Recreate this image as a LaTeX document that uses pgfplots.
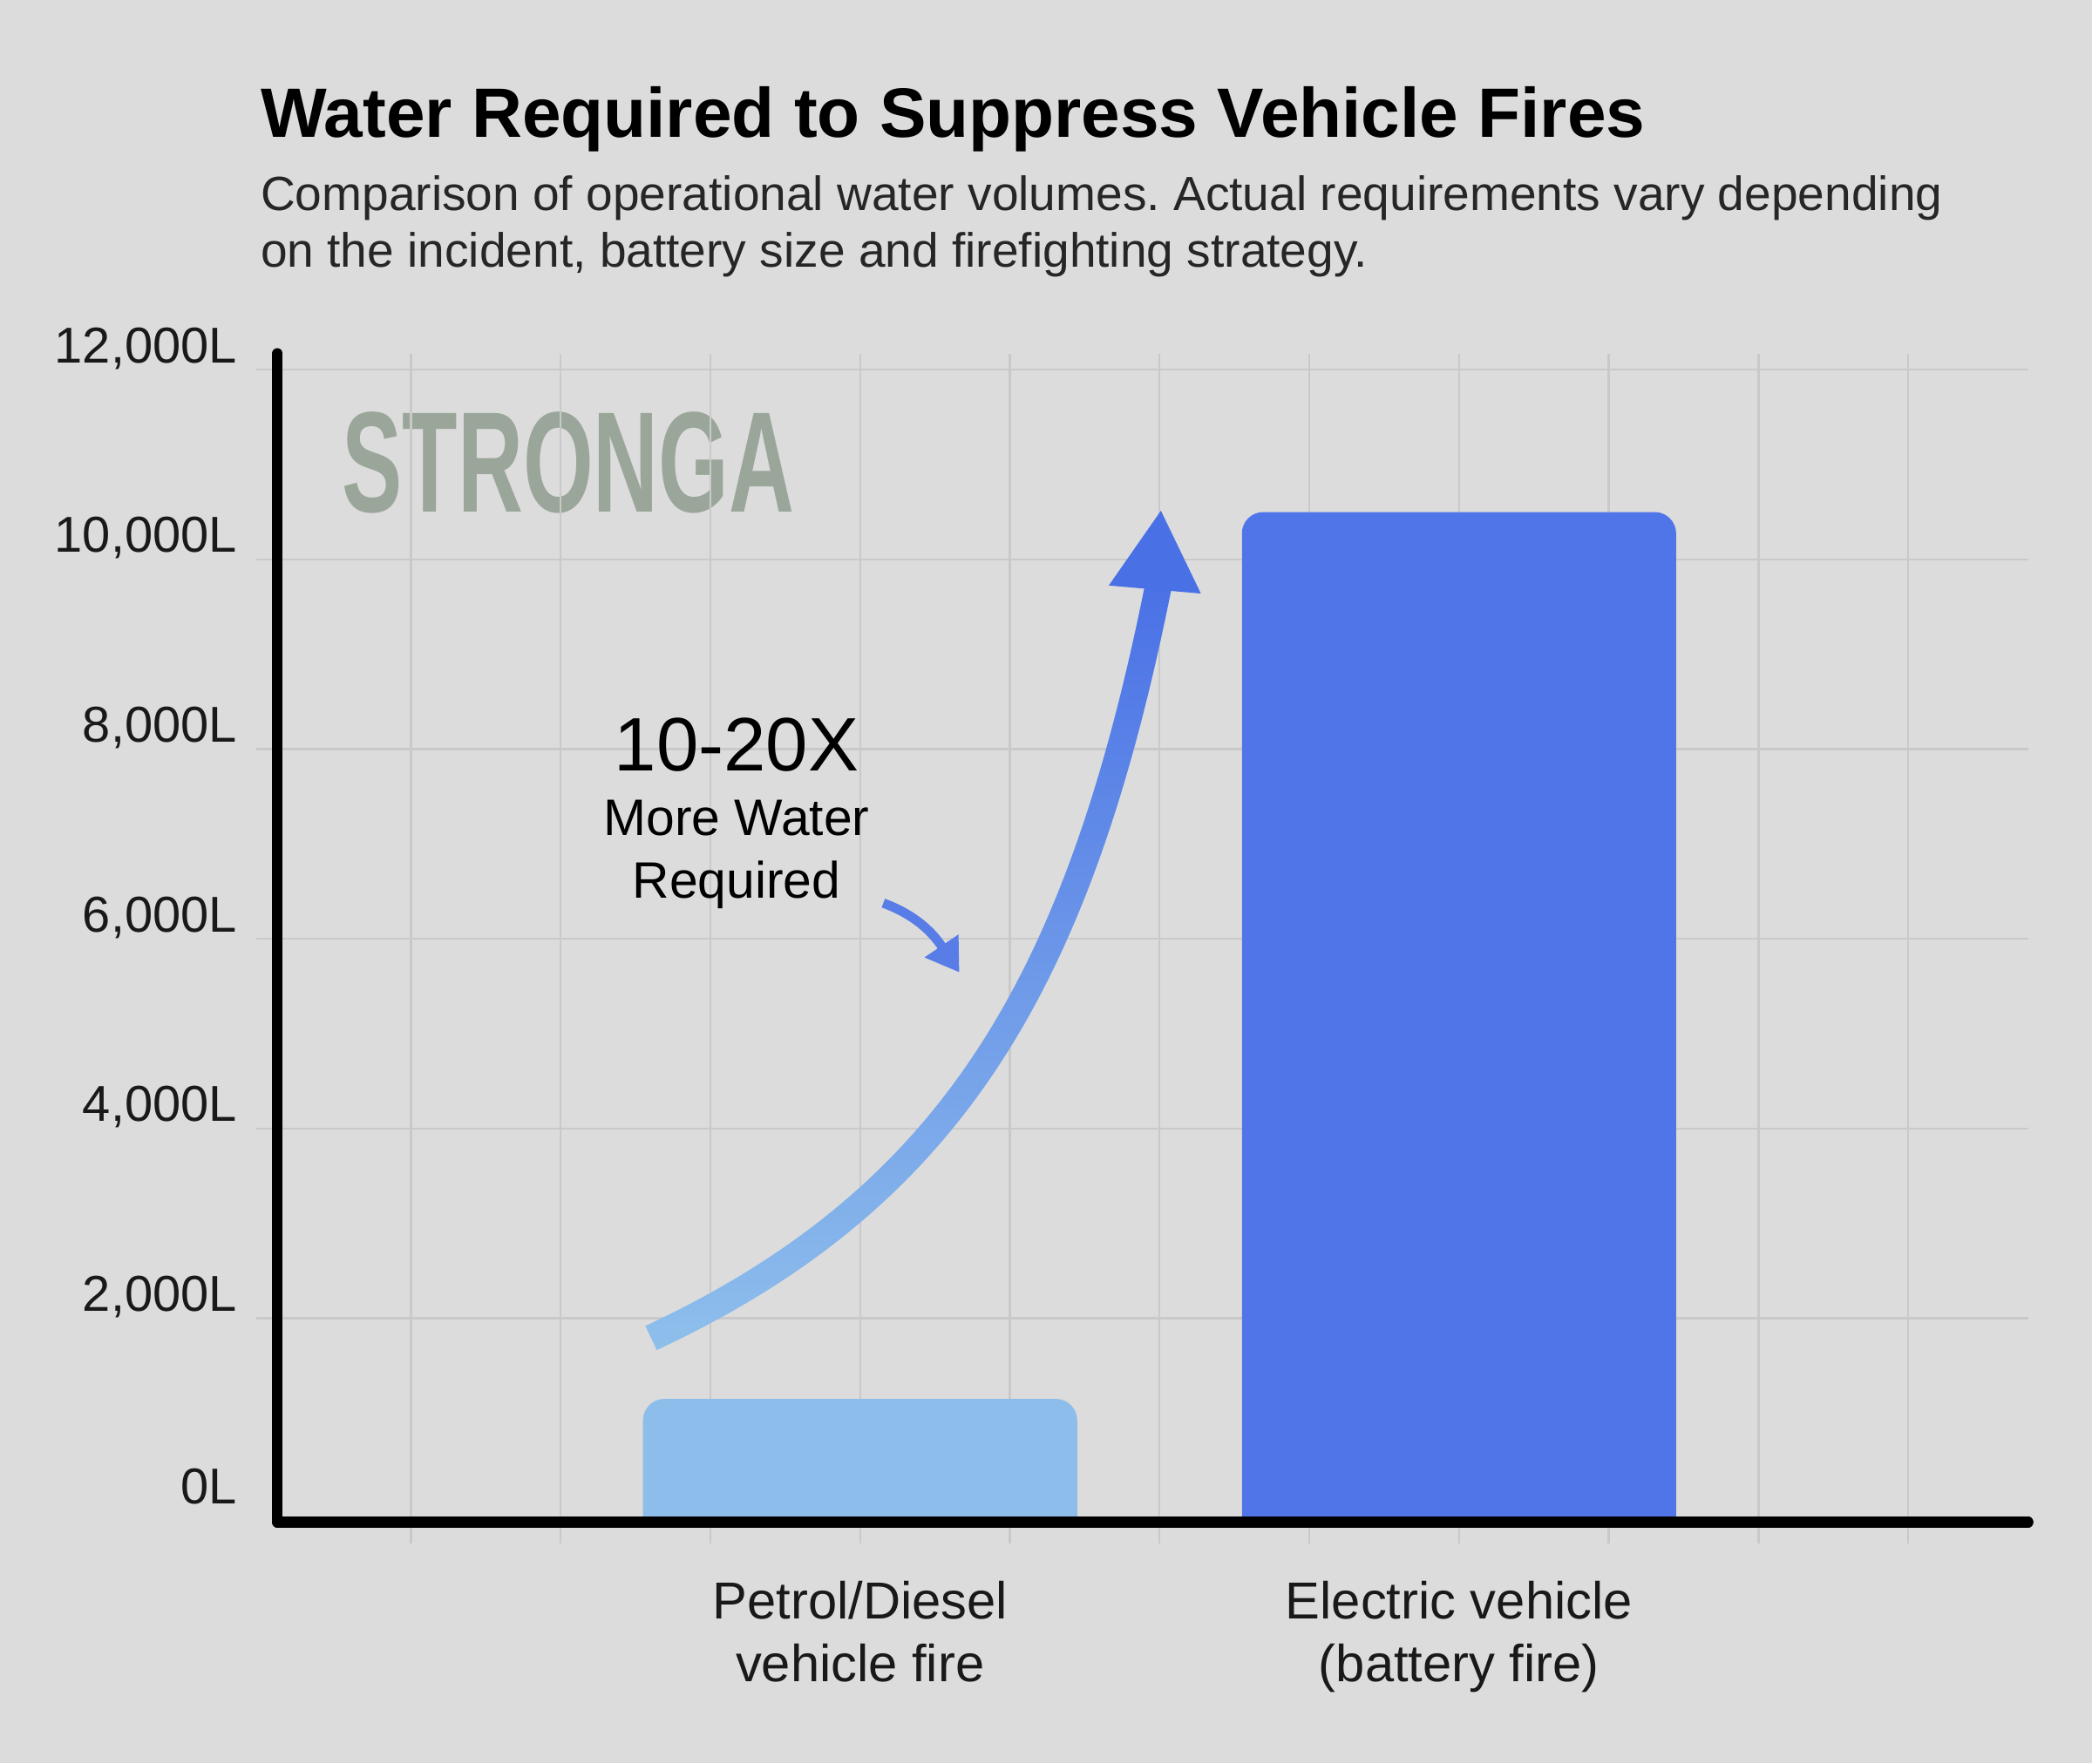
\documentclass[border=0pt]{standalone}
\usepackage{fontspec}
\setmainfont{Liberation Sans}
\usepackage{pgfplots}
\pgfplotsset{compat=1.18}
\usetikzlibrary{arrows.meta,fadings}
\frenchspacing
\definecolor{bg}{HTML}{DCDCDC}
\definecolor{gridc}{HTML}{C9C9C9}
\definecolor{petrol}{HTML}{8DBDEA}
\definecolor{ev}{HTML}{5075E8}
\definecolor{arrlight}{HTML}{8FC0EC}
\definecolor{arrdark}{HTML}{4A70E6}
\definecolor{smallarr}{HTML}{587DE6}
\definecolor{logo}{HTML}{9BA69B}
\tikzfading[name=fadeup, bottom color=transparent!100, middle color=transparent!15, top color=transparent!0]
\begin{document}
\begin{tikzpicture}
\fill[bg] (0,0) rectangle (784pt,661pt);
\node[anchor=base west, inner sep=0pt, font=\fontsize{26.2pt}{30pt}\selectfont\bfseries] at (97.5pt,609.5pt) {Water Required to Suppress Vehicle Fires};
\node[anchor=base west, inner sep=0pt, font=\fontsize{18pt}{21.5pt}\selectfont, text=black!85] at (97.5pt,582pt) {Comparison of operational water volumes. Actual requirements vary depending};
\node[anchor=base west, inner sep=0pt, font=\fontsize{18pt}{21.5pt}\selectfont, text=black!85] at (97.5pt,561pt) {on the incident, battery size and firefighting strategy.};
\node[anchor=south west, inner sep=0pt, text=logo] at (128pt,468.25pt) {\resizebox{169.5pt}{37.5pt}{\bfseries STRONGA}};
\begin{axis}[
  at={(104pt,90.5pt)}, anchor=south west,
  scale only axis, width=656pt, height=438pt,
  xmin=-0.891, xmax=10.80, ymin=-149, ymax=12172,
  axis lines=left,
  axis line style={-, line width=4pt, line cap=round, black},
  clip mode=individual,
  scaled y ticks=false, scaled x ticks=false,
  xtick={0,1,2,3,4,5,6,7,8,9,10},
  xticklabels={,,,{Petrol/Diesel\\vehicle fire},,,,{Electric vehicle\\(battery fire)},,,},
  ytick={2000,4000,6000,8000,10000,12000},
  yticklabels={{2,000L},{4,000L},{6,000L},{8,000L},{10,000L},{12,000L}},
  extra y ticks={0}, extra y tick labels={0L},
  extra y tick style={grid=none, tick style={draw=none}},
  grid=major, grid style={gridc, line width=0.75pt},
  tick align=outside, major tick length=8pt,
  tick style={gridc, line width=0.75pt},
  xticklabel style={align=center, font=\fontsize{19.5pt}{23.5pt}\selectfont, anchor=north, inner sep=0pt, yshift=-14pt, text=black!90},
  yticklabel style={anchor=east, font=\fontsize{18.9pt}{22pt}\selectfont, inner sep=0pt, xshift=-7pt, yshift=8pt, text=black!90},
]
\addplot[fill=petrol, draw=none, rounded corners=8pt] coordinates {(1.55,-1000) (1.55,1150) (4.45,1150) (4.45,-1000)};
\addplot[fill=ev, draw=none, rounded corners=8pt] coordinates {(5.55,-1000) (5.55,10500) (8.45,10500) (8.45,-1000)};
\draw[line width=4pt, line cap=round] (rel axis cs:0,0) -- (rel axis cs:1,0);
% curved arrow
\draw[line width=10pt, arrlight] (axis cs:1.604,1792) .. controls (axis cs:3.627,3283) and (axis cs:4.465,5575) .. (axis cs:4.991,9711);
\draw[line width=10pt, arrdark, path fading=fadeup] (axis cs:1.604,1792) .. controls (axis cs:3.627,3283) and (axis cs:4.465,5575) .. (axis cs:4.991,9711);
\fill[arrdark] (axis cs:5.009,10514) -- (axis cs:4.661,9726) -- (axis cs:5.276,9641) -- cycle;
\draw[smallarr, line width=3.5pt, -{Triangle[length=12pt, width=14.5pt]}] (axis cs:3.155,6377) to[out=-20, in=124] (axis cs:3.663,5646);
\node[anchor=base, inner sep=0pt, font=\fontsize{28.4pt}{32pt}\selectfont] at (axis cs:2.175,7770) {10-20X};
\node[anchor=base, inner sep=0pt, font=\fontsize{19.2pt}{23pt}\selectfont] at (axis cs:2.175,7095) {More Water};
\node[anchor=base, inner sep=0pt, font=\fontsize{19.2pt}{23pt}\selectfont] at (axis cs:2.175,6434) {Required};
\end{axis}
\end{tikzpicture}
\end{document}
